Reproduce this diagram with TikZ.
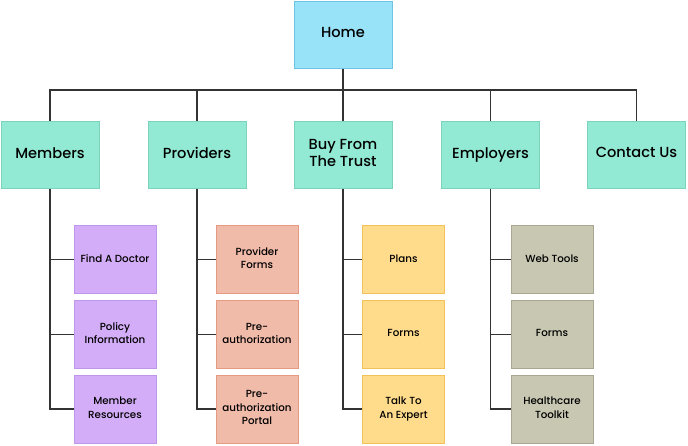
\documentclass[tikz,border=0pt]{standalone}
\usepackage{fontspec}
\setmainfont{Poppins}
\newfontfamily\pmed{Poppins Medium}
\begin{document}
\begin{tikzpicture}[x=1pt,y=-1pt,
  box/.style={draw, line width=1pt, inner sep=0pt, align=center},
  top/.style={box, fill=homeF, draw=homeD, minimum width=98pt, minimum height=67pt, text depth=3.6pt, font=\pmed\fontsize{14.6}{17}\selectfont},
  lvl/.style={box, fill=lvlF, draw=lvlD, minimum width=98pt, minimum height=67pt, text depth=3.6pt, font=\pmed\fontsize{14.6}{17}\selectfont},
  kid/.style={box, minimum width=82pt, minimum height=68pt, text depth=2.6pt, font=\pmed\fontsize{10.3}{13.3}\selectfont},
  pur/.style={kid, fill=purF, draw=purD},
  sal/.style={kid, fill=salF, draw=salD},
  yel/.style={kid, fill=yelF, draw=yelD},
  gry/.style={kid, fill=gryF, draw=gryD},
  con/.style={draw=black!80, line width=1.1pt}
]
\definecolor{homeF}{HTML}{99E3F9}\definecolor{homeD}{HTML}{6FC3E3}
\definecolor{lvlF}{HTML}{93EAD4}\definecolor{lvlD}{HTML}{7DD2BC}
\definecolor{purF}{HTML}{D4ADF8}\definecolor{purD}{HTML}{BE96EA}
\definecolor{salF}{HTML}{F1BBAA}\definecolor{salD}{HTML}{E69A84}
\definecolor{yelF}{HTML}{FFDB8C}\definecolor{yelD}{HTML}{F2C15A}
\definecolor{gryF}{HTML}{C8C7B2}\definecolor{gryD}{HTML}{A9A78F}
\useasboundingbox (0,0) rectangle (688,445);
\node[top] (home) at (343,34.5) {Home};
\node[lvl] (mem) at (50,154.5) {Members};
\node[lvl] (pro) at (197,154.5) {Providers};
\node[lvl] (buy) at (343,154.5) {Buy From\\The Trust};
\node[lvl] (emp) at (490.5,154.5) {Employers};
\node[lvl] (con) at (636.5,154.5) {Contact Us};
\coordinate (bus) at (343,90);
\draw[con] (home.south) -- (bus);
\foreach \n in {mem,pro,buy,emp,con}{
  \draw[con] (\n.north) |- (bus);
}
% children
\node[pur] (m1) at (115,259.5) {Find A Doctor};
\node[pur] (m2) at (115,334.5) {Policy\\Information};
\node[pur] (m3) at (115,409) {Member\\Resources};
\node[sal] (p1) at (257,259.5) {Provider\\Forms};
\node[sal] (p2) at (257,334.5) {Pre-\\authorization};
\node[sal] (p3) at (257,409) {Pre-\\authorization\\Portal};
\node[yel] (b1) at (403.5,259.5) {Plans};
\node[yel] (b2) at (403.5,334.5) {Forms};
\node[yel] (b3) at (403.5,409) {Talk To\\An Expert};
\node[gry] (e1) at (552,259.5) {Web Tools};
\node[gry] (e2) at (552,334.5) {Forms};
\node[gry] (e3) at (552,409) {Healthcare\\Toolkit};
\foreach \p/\a/\b/\c in {mem/m1/m2/m3,pro/p1/p2/p3,buy/b1/b2/b3,emp/e1/e2/e3}{
  \draw[con] (\p.south) |- (\c.west);
  \draw[con] (\a.west) -| (\p.south);
  \draw[con] (\b.west) -| (\p.south);
}
\end{tikzpicture}
\end{document}
